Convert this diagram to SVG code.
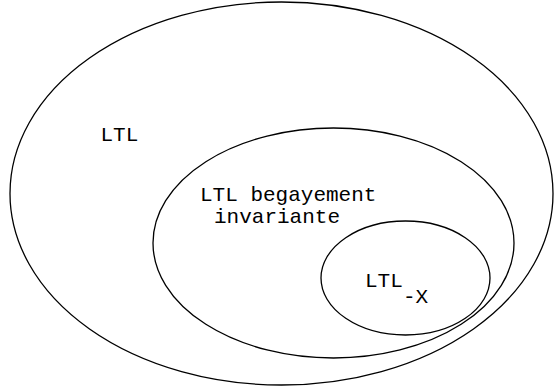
<svg xmlns="http://www.w3.org/2000/svg" width="554" height="392" viewBox="0 0 554 392">
<style>
.set{fill:none;stroke:#000;stroke-width:1.3}
.lbl{font-family:"Liberation Mono","Courier New",monospace;font-size:21px;fill:#000}
</style>
<rect width="554" height="392" fill="#fff"/>
<g id="ltl">
<ellipse class="set" cx="281.5" cy="193.5" rx="271.5" ry="191.5"/>
<text class="lbl" x="100.5" y="141">LTL</text>
</g>
<g id="ltl-begayement">
<ellipse class="set" cx="333.5" cy="243" rx="180.5" ry="115"/>
<text class="lbl" x="200" y="201">LTL begayement</text>
<text class="lbl" x="214" y="223">invariante</text>
</g>
<g id="ltl-x">
<ellipse class="set" cx="405.5" cy="278" rx="84.5" ry="57"/>
<text class="lbl" x="365" y="287">LTL</text>
<text class="lbl" x="403" y="303">-X</text>
</g>
<g id="connectors"/>
</svg>
